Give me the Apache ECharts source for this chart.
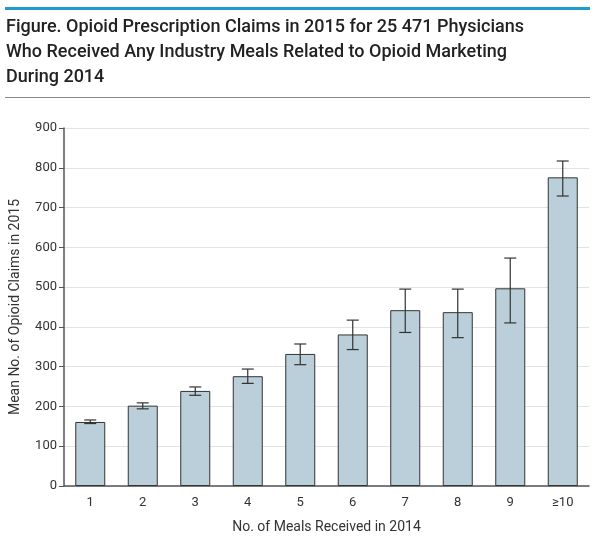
<!DOCTYPE html>
<html><head><meta charset="utf-8">
<script src="https://cdn.jsdelivr.net/npm/echarts@6/dist/echarts.min.js"></script>
<style>
html,body{margin:0;padding:0;background:#fff;}
#wrap{position:relative;width:602px;height:541px;}
#topline{position:absolute;left:5px;top:7px;width:585px;height:3px;background:#1e9ccb;}
#title{position:absolute;left:6px;top:13px;font-family:Roboto,sans-serif;font-weight:500;font-size:18px;line-height:25px;color:#222;}
#botline{position:absolute;left:5px;top:97px;width:585px;height:1px;background:#888;}
#chart{position:absolute;left:0;top:0;width:602px;height:541px;}
</style></head>
<body><div id="wrap">
<div id="chart"></div>
<div id="topline"></div>
<div id="title">Figure. Opioid Prescription Claims in 2015 for 25 471 Physicians<br>Who Received Any Industry Meals Related to Opioid Marketing<br>During 2014</div>
<div id="botline"></div>
</div>
<script>
var categories = ['1','2','3','4','5','6','7','8','9','\u226510'];
var means = [161, 202, 239, 276, 332, 381, 442, 437, 497, 776];
var lower = [157, 194, 228, 258, 305, 343, 386, 373, 410, 729];
var upper = [166, 209, 249, 294, 357, 417, 495, 495, 573, 817];
var yTicks = [0,100,200,300,400,500,600,700,800,900];

var chart = echarts.init(document.getElementById('chart'));
var errData = categories.map(function(c,i){return [i, lower[i], upper[i]];});
chart.setOption({
  animation:false,
  grid:{left:63,right:13,top:128,bottom:55},
  xAxis:{type:'category',data:categories,
    axisLine:{lineStyle:{color:'#555',width:1.5}},
    axisTick:{show:false},
    axisLabel:{color:'#333',fontSize:13,fontFamily:'Roboto',margin:10},
    name:'No. of Meals Received in 2014',nameLocation:'middle',nameGap:34,
    nameTextStyle:{color:'#333',fontSize:14,fontFamily:'Roboto'}},
  yAxis:{type:'value',min:yTicks[0],max:yTicks[yTicks.length-1],interval:100,
    axisLine:{show:true,lineStyle:{color:'#555',width:1.5}},
    axisTick:{show:true,length:5,lineStyle:{color:'#555'}},
    axisLabel:{color:'#333',fontSize:13,fontFamily:'Roboto',margin:7},
    splitLine:{lineStyle:{color:'#e2e2e2'}},
    name:'Mean No. of Opioid Claims in 2015',nameLocation:'middle',nameGap:42,
    nameTextStyle:{color:'#333',fontSize:14,fontFamily:'Roboto'}},
  series:[
    {type:'bar',data:means,barWidth:30,
     itemStyle:{color:'#bacfd9',borderColor:'#333',borderWidth:1}},
    {type:'custom',data:errData,z:10,
     renderItem:function(params,api){
       var x=api.value(0);
       var lo=api.coord([x,api.value(1)]);
       var hi=api.coord([x,api.value(2)]);
       var hw=6;
       var st={stroke:'#333',lineWidth:1.2};
       return {type:'group',children:[
         {type:'line',shape:{x1:lo[0],y1:lo[1],x2:hi[0],y2:hi[1]},style:st},
         {type:'line',shape:{x1:lo[0]-hw,y1:lo[1],x2:lo[0]+hw,y2:lo[1]},style:st},
         {type:'line',shape:{x1:hi[0]-hw,y1:hi[1],x2:hi[0]+hw,y2:hi[1]},style:st}
       ]};
     }}
  ]
});
</script></body></html>
